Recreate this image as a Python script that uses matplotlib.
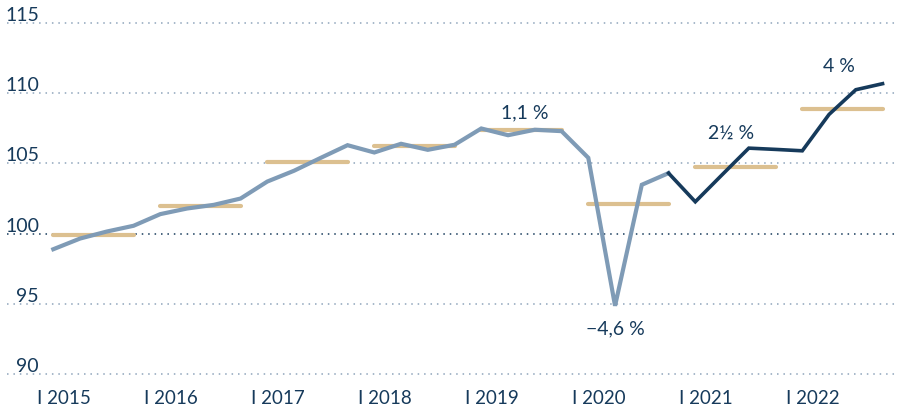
import numpy as np
import matplotlib.pyplot as plt

# --- Daten (Quartalswerte, Index) ---
years = [2015, 2016, 2017, 2018, 2019, 2020, 2021, 2022]
quarterly = [98.88, 99.64, 100.14, 100.55,
             101.38, 101.78, 102.04, 102.49,
             103.70, 104.47, 105.39, 106.29,
             105.77, 106.39, 105.96, 106.32,
             107.48, 107.00, 107.39, 107.29,
             105.39, 94.85, 103.47, 104.30,
             102.26, 104.18, 106.08, 105.99,
             105.89, 108.48, 110.24, 110.67]
annual_avg = [99.86, 101.97, 105.06, 106.25, 107.39, 102.07, 104.77, 108.88]
y_ticks = [90, 95, 100, 105, 110, 115]
split_index = 23  # ab IV 2020 Prognose (dunkle Linie)
annotations = [("1,1 %", 17.63, 108.65),
               ("\u22124,6 %", 21.03, 93.27),
               ("2\u00bd %", 25.33, 107.23),
               ("4 %", 29.37, 112.0)]

navy = "#163a5b"
grey_blue = "#7f9bb6"
tan = "#dcc090"
grid_col = "#8ea4bb"

plt.rcParams['font.family'] = ['Lato', 'DejaVu Sans']

fig = plt.figure(figsize=(8.97, 4.10), dpi=100)
ax = fig.add_axes([0, 0, 1, 1])
ax.set_axis_off()

# Pixel -> Daten: x: 53.3 px + i*26.75, y: 234.5 px - (v-100)*14.04
ax.set_xlim(-53.3 / 26.75, (897 - 53.3) / 26.75)
ax.set_ylim(100 - 175.5 / 14.04, 100 + 234.5 / 14.04)

x = np.arange(len(quarterly))
x_left = (7 - 53.3) / 26.75

# Gitterlinien
for v in y_ticks:
    col = navy if v == 100 else grid_col
    ax.plot([x_left, 33], [v, v], color=col, lw=1.1, ls=(0, (1, 3.2)), zorder=1)
    ax.text((39 - 53.3) / 26.75, v + 0.2, str(v), ha='right', va='baseline',
            fontsize=14, color=navy)

# Jahresdurchschnitte
for k, avg in enumerate(annual_avg):
    ax.plot([4 * k, 4 * k + 3], [avg, avg], color=tan, lw=3, solid_capstyle='round', zorder=2)

# Quartalslinie
ax.plot(x[:split_index + 1], quarterly[:split_index + 1], color=grey_blue, lw=3,
        solid_joinstyle='miter', zorder=3)
ax.plot(x[split_index:], quarterly[split_index:], color=navy, lw=2.6,
        solid_joinstyle='miter', zorder=3)

# x-Achsenbeschriftung
for k, yr in enumerate(years):
    ax.text(4 * k - 0.6, 100 + (234.5 - 398) / 14.04, f"I {yr}", ha='left', va='center',
            fontsize=13.5, color=navy)

for txt, xi, yv in annotations:
    ax.text(xi, yv, txt, ha='center', va='center', fontsize=14, color=navy)

fig.savefig("out.png", dpi=100)
